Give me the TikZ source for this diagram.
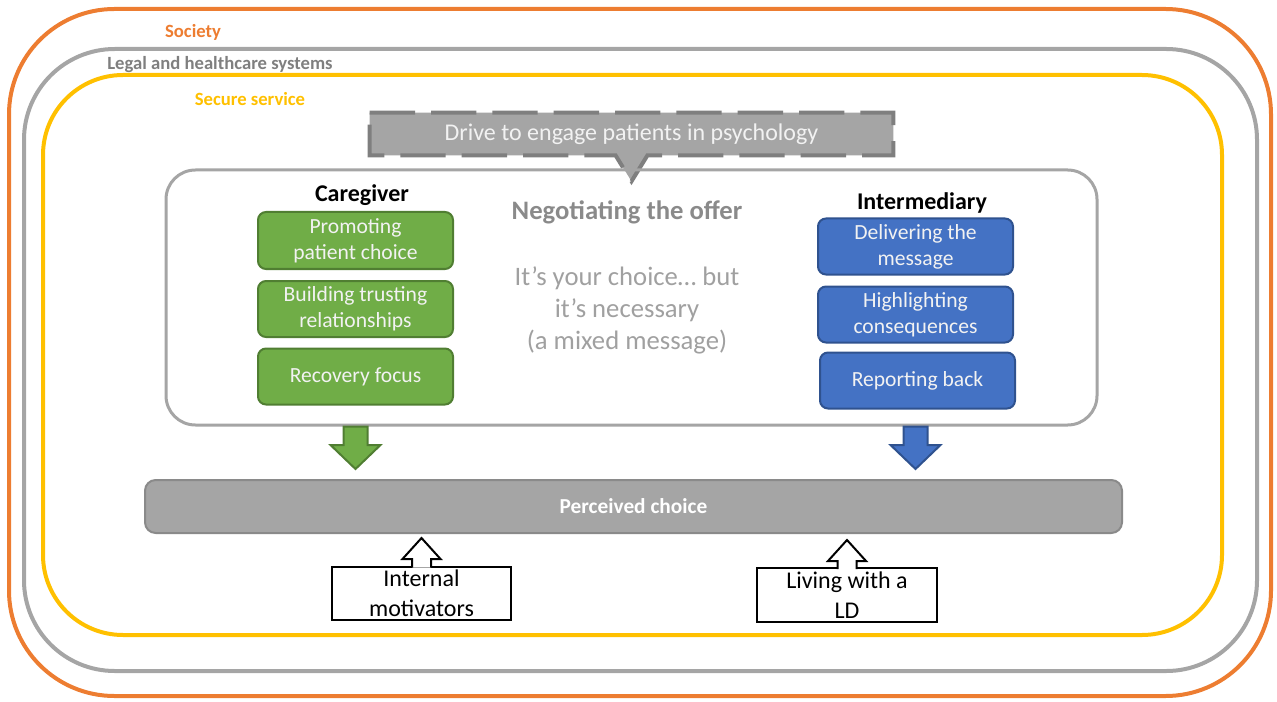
\documentclass[tikz,border=0pt]{standalone}
\usepackage{fontspec}
\setmainfont{Carlito}
\usetikzlibrary{calc,backgrounds}

\definecolor{socOrange}{HTML}{ED7D31}
\definecolor{sysGray}{HTML}{A5A5A5}
\definecolor{secYellow}{HTML}{FFC000}
\definecolor{darkGray}{HTML}{7F7F7F}
\definecolor{midGray}{HTML}{8A8A8A}
\definecolor{softGray}{HTML}{A0A0A0}
\definecolor{cgFill}{HTML}{70AD47}
\definecolor{cgLine}{HTML}{507E32}
\definecolor{imFill}{HTML}{4472C4}
\definecolor{imLine}{HTML}{2F528F}
\definecolor{paleText}{HTML}{F2F2F2}

% lengths given in pixels
\newcommand\pxl[1]{#1*0.75pt}

% block arrow pointing down: style, start, tip
\newcommand\downblock[3]{%
  \draw[#1] ($(#2)+(-12,0)$) -- ($(#2)+(12,0)$) -- ($(#3)+(12,-24)$)
    -- ($(#3)+(25,-24)$) -- (#3) -- ($(#3)+(-25,-24)$)
    -- ($(#3)+(-12,-24)$) -- cycle;}
% open block arrow pointing up, rising out of a box: start, tip
\newcommand\upblock[2]{%
  \draw[upshape] ($(#1)+(-9.5,2)$) -- ($(#2)+(-9.5,21)$) -- ($(#2)+(-19,21)$)
    -- (#2) -- ($(#2)+(19,21)$) -- ($(#2)+(9.5,21)$) -- ($(#1)+(9.5,2)$);}

\tikzset{
  frame/.style={line width=3pt},
  layerlabel/.style={font=\bfseries\fontsize{14pt}{16pt}\selectfont, inner sep=0pt},
  rolehead/.style={font=\bfseries\fontsize{18pt}{20pt}\selectfont, inner sep=0pt},
  rolebox/.style={line width=1.5pt, rounded corners=6pt, inner sep=0pt,
    minimum width=\pxl{195}, align=center, text=paleText,
    font=\fontsize{16.2pt}{19.5pt}\selectfont},
  cgbox/.style={rolebox, draw=cgLine, fill=cgFill},
  imbox/.style={rolebox, draw=imLine, fill=imFill},
  cgarrow/.style={draw=cgLine, fill=cgFill, line width=1.5pt, line join=miter},
  imarrow/.style={draw=imLine, fill=imFill, line width=1.5pt, line join=miter},
  factorbox/.style={draw=black, fill=white, line width=1.5pt, inner sep=0pt,
    align=center, font=\fontsize{18pt}{22.5pt}\selectfont},
  upshape/.style={draw=black, fill=white, line width=1.5pt, line join=miter},
}

\begin{document}
\begin{tikzpicture}[x=0.75pt, y=-0.75pt]
\useasboundingbox (0,0) rectangle (1277,702);

% nested contexts
\draw[frame, draw=socOrange, rounded corners=79pt] (9,9) rectangle (1271,696);
\draw[frame, draw=sysGray, rounded corners=68pt] (24,49) rectangle (1257,671);
\draw[frame, draw=secYellow, rounded corners=60pt] (43,75) rectangle (1222,635);

\node[layerlabel, text=socOrange] (society) at (193,32) {Society};
\node[layerlabel, text=darkGray, anchor=west] (legal) at (107,65) {Legal and healthcare systems};
\node[layerlabel, text=secYellow] (secure) at (250,99) {Secure service};

% institutional drive (callout)
\node[minimum width=\pxl{523}, minimum height=\pxl{42}, inner sep=0pt,
      text=paleText, font=\fontsize{18pt}{20pt}\selectfont] (drive) at (631.5,134)
      {Drive to engage patients in psychology};
\begin{scope}[on background layer]
\path[fill=sysGray, draw=darkGray, line width=3pt, dash pattern=on 34pt off 12pt]
  (drive.north west) -- (drive.north east) -- (drive.south east)
  -- ($(drive.south)+(16,0)$) -- ($(drive.south)+(0,26)$)
  -- ($(drive.south)+(-16,0)$) -- (drive.south west) -- cycle;
\end{scope}

% negotiation area
\node[draw=sysGray, line width=2.25pt, rounded corners=22pt,
      minimum width=\pxl{931}, minimum height=\pxl{255}] (inner) at (631.5,297.5) {};

\node[rolehead] (caregiver) at (362,195) {Caregiver};
\node[cgbox, minimum height=\pxl{57}] (g1) at (355.5,240.5) {Promoting\\patient choice};
\node[cgbox, minimum height=\pxl{56}] (g2) at (355.5,309) {Building trusting\\relationships};
\node[cgbox, minimum height=\pxl{56}] (g3) at (355.5,376.5) {Recovery focus};

\node[rolehead] (intermediary) at (922,203) {Intermediary};
\node[imbox, minimum height=\pxl{56}] (b1) at (915.5,246.5) {Delivering the\\message};
\node[imbox, minimum height=\pxl{56}] (b2) at (915.5,314.5) {Highlighting\\consequences};
\node[imbox, minimum height=\pxl{56}] (b3) at (917.5,380.5) {Reporting back};

\node[font=\bfseries\fontsize{20pt}{22pt}\selectfont, text=midGray, inner sep=0pt]
  (negotiating) at (627,212) {Negotiating the offer};
\node[font=\fontsize{20pt}{24pt}\selectfont, text=softGray, align=center, inner sep=0pt]
  (mixed) at (627,310) {It’s your choice… but\\it’s necessary\\(a mixed message)};

% outcome
\node[draw=midGray, fill=sysGray, line width=1.5pt, rounded corners=8pt,
      minimum width=\pxl{977}, minimum height=\pxl{53}, text=white,
      font=\bfseries\fontsize{16pt}{18pt}\selectfont] (pc) at (633.5,506.5) {Perceived choice};

% influences from the two roles
\coordinate (gs) at (g3 |- inner.south);
\coordinate (gt) at ($(g3 |- pc.north)+(0,-10)$);
\downblock{cgarrow}{gs}{gt}
\coordinate (bs) at (b1 |- inner.south);
\coordinate (bt) at ($(b1 |- pc.north)+(0,-10)$);
\downblock{imarrow}{bs}{bt}

% patient-side factors
\node[factorbox, minimum width=\pxl{179}, minimum height=\pxl{53}] (motiv) at (421.5,593)
  {Internal\\motivators};
\node[factorbox, minimum width=\pxl{180}, minimum height=\pxl{54}] (ld) at (847,595)
  {Living with a\\LD};

\coordinate (mt) at ($(motiv |- pc.south)+(0,4)$);
\upblock{motiv.north}{mt}
\coordinate (lt) at ($(ld |- pc.south)+(0,6)$);
\upblock{ld.north}{lt}
\end{tikzpicture}
\end{document}
